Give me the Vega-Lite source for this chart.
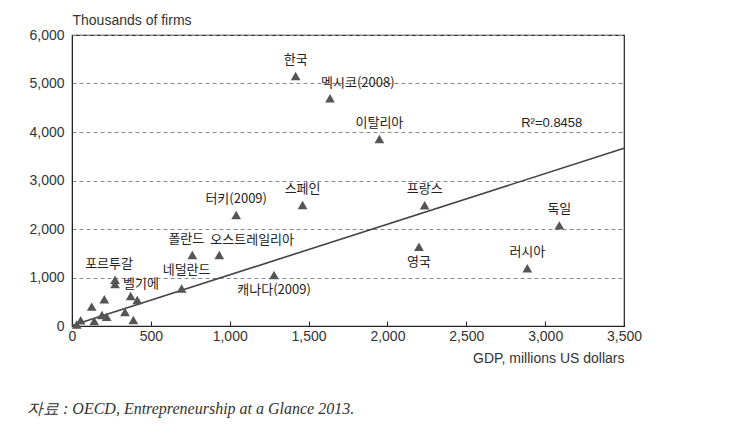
{
  "$schema": "https://vega.github.io/schema/vega-lite/v6.json",
  "autosize": "none",
  "width": 552,
  "height": 291,
  "padding": {"left": 72, "top": 35, "right": 120, "bottom": 121},
  "background": "white",
  "config": {
    "view": {"stroke": "#222", "strokeWidth": 1.2},
    "font": "Liberation Sans"
  },
  "title": {
    "text": "자료 : OECD, Entrepreneurship at a Glance 2013.",
    "orient": "bottom",
    "anchor": "start",
    "frame": "group",
    "dx": -45,
    "offset": 36,
    "font": "Liberation Serif",
    "fontStyle": "italic",
    "fontWeight": "normal",
    "fontSize": 16,
    "color": "#333"
  },
  "datasets": {
    "pts": [
      {"country": "한국", "gdp": 1418, "firms": 5155},
      {"country": "멕시코(2008)", "gdp": 1636, "firms": 4695},
      {"country": "이탈리아", "gdp": 1949, "firms": 3856},
      {"country": "터키(2009)", "gdp": 1041, "firms": 2290},
      {"country": "스페인", "gdp": 1462, "firms": 2495},
      {"country": "프랑스", "gdp": 2236, "firms": 2490},
      {"country": "독일", "gdp": 3090, "firms": 2075},
      {"country": "영국", "gdp": 2200, "firms": 1635},
      {"country": "러시아", "gdp": 2887, "firms": 1190},
      {"country": "폴란드", "gdp": 763, "firms": 1465},
      {"country": "오스트레일리아", "gdp": 934, "firms": 1465},
      {"country": "캐나다(2009)", "gdp": 1281, "firms": 1050},
      {"country": "네덜란드", "gdp": 695, "firms": 775},
      {"country": "포르투갈", "gdp": 273, "firms": 955},
      {"country": "벨기에", "gdp": 273, "firms": 865},
      {"country": "", "gdp": 372, "firms": 620},
      {"country": "", "gdp": 414, "firms": 535},
      {"country": "", "gdp": 336, "firms": 290},
      {"country": "", "gdp": 389, "firms": 125},
      {"country": "", "gdp": 205, "firms": 550},
      {"country": "", "gdp": 190, "firms": 225},
      {"country": "", "gdp": 220, "firms": 190},
      {"country": "", "gdp": 125, "firms": 400},
      {"country": "", "gdp": 141, "firms": 100},
      {"country": "", "gdp": 55, "firms": 120},
      {"country": "", "gdp": 30, "firms": 30}
    ],
    "fit": [
      {"gdp": 0, "firms": 10},
      {"gdp": 3500, "firms": 3665}
    ],
    "r2": [
      {"gdp": 3042, "firms": 4180, "label": "R²=0.8458"}
    ]
  },
  "encoding": {
    "x": {
      "field": "gdp", "type": "quantitative",
      "scale": {"domain": [0, 3500], "nice": false},
      "axis": {
        "values": [0, 500, 1000, 1500, 2000, 2500, 3000, 3500],
        "format": ",.0f",
        "grid": false,
        "title": "GDP, millions US dollars",
        "titleAnchor": "end",
        "titleFont": "Liberation Sans",
        "titleFontSize": 14,
        "titleFontWeight": "normal",
        "titleColor": "#333",
        "titlePadding": 8,
        "labelFont": "Liberation Sans",
        "labelFontSize": 14,
        "labelColor": "#333",
        "labelPadding": 8,
        "tickSize": -5,
        "tickColor": "#222",
        "domainColor": "#222",
        "labelFlush": false
      }
    },
    "y": {
      "field": "firms", "type": "quantitative",
      "scale": {"domain": [0, 6000], "nice": false},
      "axis": {
        "values": [0, 1000, 2000, 3000, 4000, 5000, 6000],
        "format": ",.0f",
        "grid": true,
        "gridDash": [4, 3],
        "gridColor": "#888",
        "gridWidth": 1,
        "ticks": false,
        "labelPadding": 8,
        "labelFont": "Liberation Sans",
        "labelFontSize": 14,
        "labelColor": "#333",
        "domainColor": "#222",
        "title": "Thousands of firms",
        "titleAngle": 0,
        "titleX": 0,
        "titleY": -8,
        "titleAlign": "left",
        "titleBaseline": "bottom",
        "titleFont": "Liberation Sans",
        "titleFontSize": 14,
        "titleFontWeight": "normal",
        "titleColor": "#333"
      }
    }
  },
  "layer": [
    {
      "data": {"name": "fit"},
      "mark": {"type": "line", "color": "#444", "strokeWidth": 1.6}
    },
    {
      "data": {"name": "pts"},
      "mark": {"type": "point", "shape": "triangle-up", "filled": true, "color": "#555", "opacity": 1, "size": 95}
    },
    {
      "data": {"name": "pts"},
      "transform": [{"filter": {"field": "country", "oneOf": ["한국", "이탈리아", "터키(2009)", "스페인", "프랑스", "독일", "러시아"]}}],
      "mark": {"type": "text", "dy": -16, "font": "Noto Sans CJK KR", "fontSize": 13, "color": "#222"},
      "encoding": {"text": {"field": "country"}}
    },
    {
      "data": {"name": "pts"},
      "transform": [{"filter": {"field": "country", "oneOf": ["폴란드", "포르투갈"]}}],
      "mark": {"type": "text", "dy": -16, "dx": -6, "font": "Noto Sans CJK KR", "fontSize": 13, "color": "#222"},
      "encoding": {"text": {"field": "country"}}
    },
    {
      "data": {"name": "pts"},
      "transform": [{"filter": {"field": "country", "oneOf": ["네덜란드"]}}],
      "mark": {"type": "text", "dy": -18, "dx": 5, "font": "Noto Sans CJK KR", "fontSize": 13, "color": "#222"},
      "encoding": {"text": {"field": "country"}}
    },
    {
      "data": {"name": "pts"},
      "transform": [{"filter": {"field": "country", "oneOf": ["멕시코(2008)", "오스트레일리아"]}}],
      "mark": {"type": "text", "align": "left", "dy": -15, "dx": -9, "font": "Noto Sans CJK KR", "fontSize": 13, "color": "#222"},
      "encoding": {"text": {"field": "country"}}
    },
    {
      "data": {"name": "pts"},
      "transform": [{"filter": {"field": "country", "oneOf": ["영국", "캐나다(2009)"]}}],
      "mark": {"type": "text", "dy": 15, "font": "Noto Sans CJK KR", "fontSize": 13, "color": "#222"},
      "encoding": {"text": {"field": "country"}}
    },
    {
      "data": {"name": "pts"},
      "transform": [{"filter": {"field": "country", "oneOf": ["벨기에"]}}],
      "mark": {"type": "text", "align": "left", "dx": 8, "dy": 0, "font": "Noto Sans CJK KR", "fontSize": 13, "color": "#222"},
      "encoding": {"text": {"field": "country"}}
    },
    {
      "data": {"name": "r2"},
      "mark": {"type": "text", "font": "Liberation Sans", "fontSize": 13, "color": "#222"},
      "encoding": {"text": {"field": "label"}}
    }
  ]
}
